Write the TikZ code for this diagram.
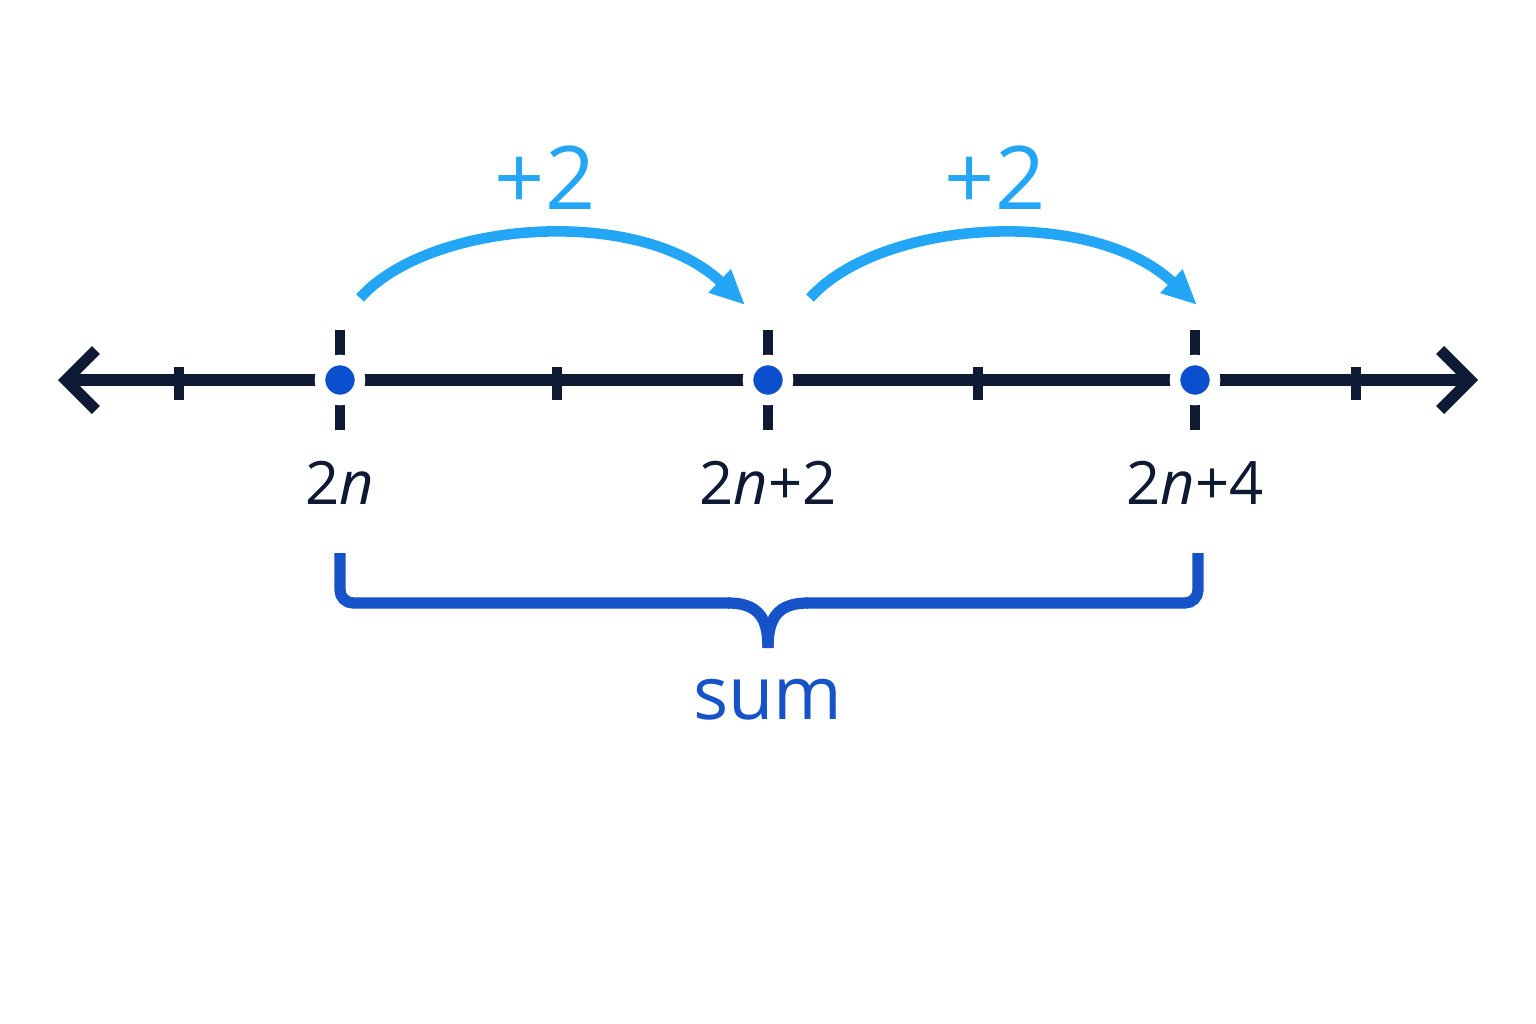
\documentclass[tikz,border=0pt]{standalone}
\usepackage{fontspec}
\setmainfont{Open Sans}
\usetikzlibrary{arrows.meta}
\definecolor{ink}{HTML}{0E1A33}
\definecolor{dotc}{HTML}{0B4FCF}
\definecolor{arc}{HTML}{22A6F5}
\definecolor{brace}{HTML}{1652C8}
\begin{document}
\begin{tikzpicture}[x=0.01cm,y=-0.01cm,
  axis/.style={ink,line width=3.2pt},
  tick/.style={ink,line width=3pt},
  dot/.style={circle,fill=dotc,draw=white,line width=3pt,minimum size=40\pgflinewidth,inner sep=0pt,minimum size=0.4cm},
  lab/.style={ink,font=\fontsize{17}{20}\selectfont},
  jump/.style={arc,line width=3pt,-{Triangle[length=0.35cm,width=0.3cm]}},
  plus/.style={arc,font=\fontsize{25}{30}\selectfont},
  br/.style={brace,line width=3.2pt,rounded corners=0.13cm}]
\useasboundingbox (0,0) rectangle (1536,1024);
\coordinate (L) at (58,380); \coordinate (R) at (1478,380);
\draw[axis,{Straight Barb[length=0.3cm,width=0.6cm]}-{Straight Barb[length=0.3cm,width=0.6cm]}] (L) -- (R);
\foreach \x in {179,557,978,1356} \draw[tick] (\x,367) -- (\x,400);
\foreach \x/\n in {340/a,768/b,1195/c}{
  \draw[tick] (\x,330) -- (\x,430);
  \node[dot] (\n) at (\x,380) {};
}
\node[lab] (la) at (340,483) {2\textit{n}};
\node[lab] (lb) at (768,483) {2\textit{n}+2};
\node[lab] (lc) at (1195,483) {2\textit{n}+4};
\coordinate (s1) at (360,298); \coordinate (e1) at (745,305);
\coordinate (s2) at (810,298); \coordinate (e2) at (1197,305);
\draw[jump] (s1) .. controls (430,220) and (640,205) .. (e1);
\draw[jump] (s2) .. controls (880,220) and (1090,205) .. (e2);
\node[plus] (p1) at (545,178) {+2};
\node[plus] (p2) at (995,178) {+2};
\coordinate (b0) at (340,553); \coordinate (b1) at (1198,553); \coordinate (bt) at (768,648);
\draw[br] (b0) -- (340,603) -- (730,603);
\draw[brace,line width=3.2pt] (728,603) .. controls (760,603) and (768,620) .. (bt);
\draw[br] (b1) -- (1198,603) -- (806,603);
\draw[brace,line width=3.2pt] (808,603) .. controls (776,603) and (768,620) .. (bt);
\node[brace,font=\fontsize{21}{25}\selectfont] (sum) at (768,700) {sum};
\end{tikzpicture}
\end{document}
